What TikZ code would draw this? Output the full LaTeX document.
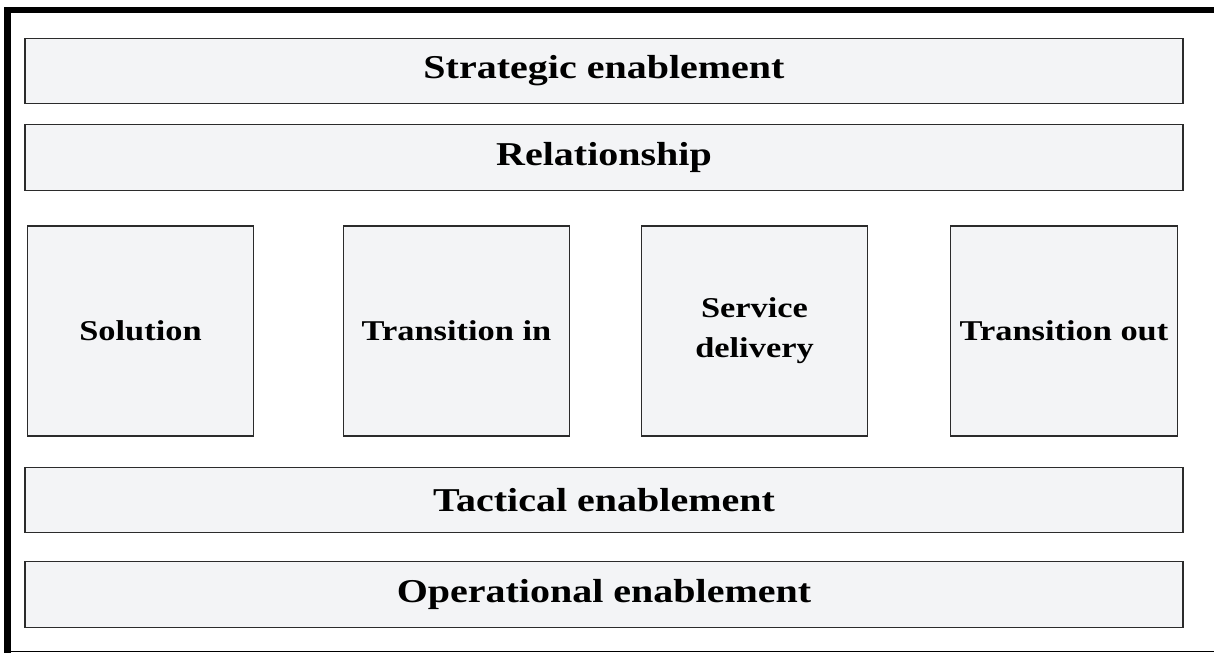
\documentclass[tikz,border=0pt]{standalone}
\usepackage{fontspec}
\setmainfont[FakeStretch=1.2]{Liberation Serif}
\definecolor{panel}{HTML}{F3F4F6}
\definecolor{edge}{HTML}{2B2B2B}
\tikzset{
  layer/.style = {draw=edge, line width=0.9pt, fill=panel, inner sep=0pt,
    minimum width=868.5pt, minimum height=49pt,
    font=\fontsize{25}{30}\selectfont\bfseries},
  phase/.style = {draw=edge, line width=0.9pt, fill=panel, inner sep=0pt,
    minimum width=170pt, minimum height=157.5pt, align=center,
    font=\fontsize{21.5}{30}\selectfont\bfseries}
}
\begin{document}
\begin{tikzpicture}[x=0.75pt, y=-0.75pt]
    \useasboundingbox (0,0) rectangle (1214,653);
    % outer frame
    \draw[line width=5.2pt] (7.5,653) -- (7.5,10) -- (1214,10);
    \draw[line width=0.8pt] (7.5,651.5) -- (1214,651.5);

    % top layers
    \node[layer] (strategic) at (604,71) {Strategic enablement};
    \node[layer] (relation) at (604,157.5) {Relationship};

    % phases
    \node[phase] (solution) at (140.5,331) {Solution};
    \node[phase] (transin) at (456.5,331) {Transition in};
    \node[phase] (delivery) at (754.5,331) {Service\\delivery};
    \node[phase] (transout) at (1064,331) {Transition out};

    % bottom layers
    \node[layer] (tactical) at (604,500) {Tactical enablement};
    \node[layer] (operational) at (604,594.5) {Operational enablement};
  \end{tikzpicture}
\end{document}
